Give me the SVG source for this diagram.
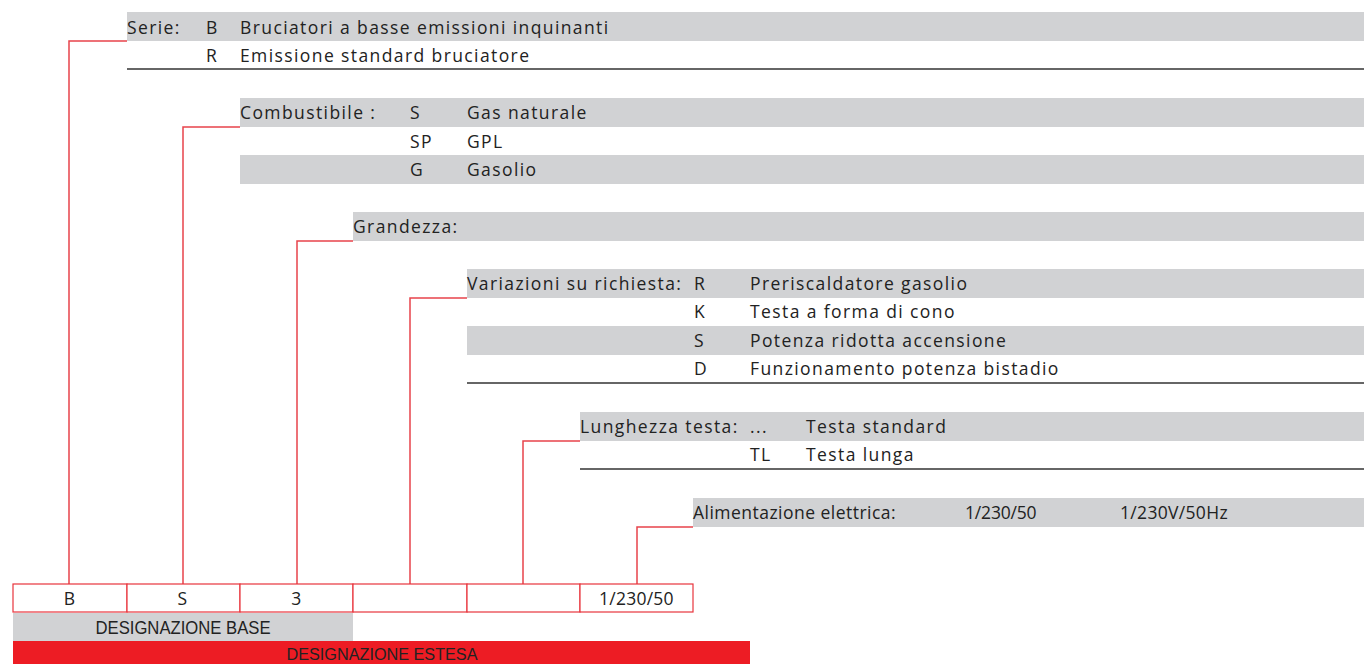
<svg xmlns="http://www.w3.org/2000/svg" width="1364" height="664" viewBox="0 0 1364 664">
<style>
.band{fill:#d1d2d4}
.rule{stroke:#333;stroke-width:1.3;fill:none}
.con{stroke:#e8434b;stroke-width:1.5;fill:none}
.box{fill:#fff;stroke:#e8343c;stroke-width:1.2}
text{font-family:"Open Sans","Noto Sans",sans-serif;font-size:17.5px;fill:#222;letter-spacing:1.4px}
.c{text-anchor:middle}
.cap{font-family:"Liberation Sans",sans-serif;font-size:18px;letter-spacing:0}
.cap2{font-family:"Liberation Sans",sans-serif;font-size:16px;letter-spacing:0}
</style>
<rect width="1364" height="664" fill="#fff"/>
<g id="serie">
<rect class="band" x="127" y="12" width="1237" height="29"/>
<line class="rule" x1="127" y1="69" x2="1364" y2="69"/>
<text x="127" y="34">Serie:</text>
<text x="206" y="34">B</text><text x="240" y="34">Bruciatori a basse emissioni inquinanti</text>
<text x="206" y="62">R</text><text x="240" y="62">Emissione standard bruciatore</text>
</g>
<g id="combustibile">
<rect class="band" x="240" y="98" width="1124" height="29"/>
<rect class="band" x="240" y="155" width="1124" height="29"/>
<text x="240" y="119">Combustibile :</text>
<text x="410" y="119">S</text><text x="467" y="119">Gas naturale</text>
<text x="410" y="148">SP</text><text x="467" y="148">GPL</text>
<text x="410" y="176">G</text><text x="467" y="176">Gasolio</text>
</g>
<g id="grandezza">
<rect class="band" x="353" y="212" width="1011" height="29"/>
<text x="353" y="233">Grandezza:</text>
</g>
<g id="variazioni">
<rect class="band" x="467" y="269" width="897" height="29"/>
<rect class="band" x="467" y="326" width="897" height="29"/>
<line class="rule" x1="467" y1="383" x2="1364" y2="383"/>
<text x="467" y="290">Variazioni su richiesta:</text>
<text x="694" y="290">R</text><text x="750" y="290">Preriscaldatore gasolio</text>
<text x="694" y="318">K</text><text x="750" y="318">Testa a forma di cono</text>
<text x="694" y="347">S</text><text x="750" y="347">Potenza ridotta accensione</text>
<text x="694" y="375">D</text><text x="750" y="375">Funzionamento potenza bistadio</text>
</g>
<g id="lunghezza">
<rect class="band" x="580" y="412" width="784" height="29"/>
<line class="rule" x1="580" y1="469" x2="1364" y2="469"/>
<text x="580" y="433">Lunghezza testa:</text>
<text x="750" y="433">...</text><text x="806" y="433">Testa standard</text>
<text x="750" y="461">TL</text><text x="806" y="461">Testa lunga</text>
</g>
<g id="alimentazione">
<rect class="band" x="693" y="498" width="671" height="29"/>
<text x="693" y="519" textLength="204">Alimentazione elettrica:</text>
<text x="965" y="519" textLength="73">1/230/50</text>
<text x="1120" y="519" textLength="109">1/230V/50Hz</text>
</g>
<g id="connectors">
<polyline class="con" points="127,41 69,41 69,584"/>
<polyline class="con" points="240,127 183,127 183,584"/>
<polyline class="con" points="353,241 297,241 297,584"/>
<polyline class="con" points="467,298 410,298 410,584"/>
<polyline class="con" points="580,441 523,441 523,584"/>
<polyline class="con" points="693,527 637,527 637,584"/>
</g>
<g id="boxes">
<rect class="box" x="13" y="584" width="114" height="28"/>
<rect class="box" x="127" y="584" width="113" height="28"/>
<rect class="box" x="240" y="584" width="113" height="28"/>
<rect class="box" x="353" y="584" width="114" height="28"/>
<rect class="box" x="467" y="584" width="113" height="28"/>
<rect class="box" x="580" y="584" width="113" height="28"/>
<text class="c" x="70" y="605">B</text>
<text class="c" x="183" y="605">S</text>
<text class="c" x="297" y="605">3</text>
<text class="c" x="637" y="605" textLength="76">1/230/50</text>
</g>
<g id="base">
<rect x="13" y="613" width="340" height="28" fill="#d1d2d4"/>
<text class="c cap" x="183" y="634" textLength="175" lengthAdjust="spacingAndGlyphs">DESIGNAZIONE BASE</text>
</g>
<g id="estesa">
<rect x="13" y="641" width="737" height="23" fill="#ed1c24"/>
<text class="c cap2" x="382" y="660" textLength="191" lengthAdjust="spacingAndGlyphs">DESIGNAZIONE ESTESA</text>
</g>
</svg>
